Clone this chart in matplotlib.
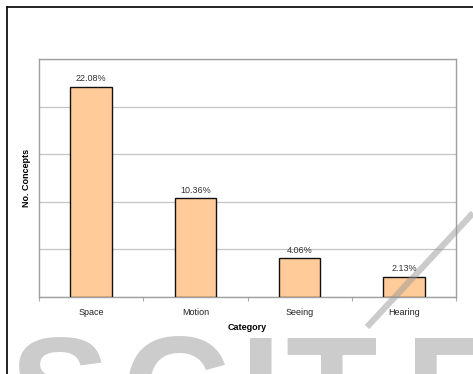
import matplotlib
matplotlib.use('Agg')
import matplotlib.pyplot as plt
from matplotlib.lines import Line2D

plt.rcParams['font.family'] = ['Liberation Sans', 'DejaVu Sans']

# data
categories = ['Space', 'Motion', 'Seeing', 'Hearing']
share_pct = [22.08, 10.36, 4.06, 2.13]

W, H = 473, 374
fig = plt.figure(figsize=(W / 100, H / 100), dpi=100)


def px(x, y):
    # pixel coords (top-left origin) -> figure fraction
    return x / W, 1 - y / H


# plot area
left, top, right, bottom = 39, 59, 456, 297
ax = fig.add_axes([left / W, 1 - bottom / H, (right - left) / W, (bottom - top) / H])

xpos = range(len(categories))
ax.bar(xpos, share_pct, width=0.4, color='#ffcc99', edgecolor='#111111', linewidth=1.0, zorder=3)
for x, v in zip(xpos, share_pct):
    ax.text(x, v + 0.35, '%.2f%%' % v, ha='center', va='bottom', fontsize=6.5, color='#333333')

ax.set_xlim(-0.5, len(categories) - 0.5)
ax.set_ylim(0, 25)
ax.set_yticks([0, 5, 10, 15, 20, 25])
ax.set_yticklabels([])
ax.tick_params(axis='y', length=0)
ax.yaxis.grid(True, color='#c4c4c4', linewidth=0.9)
ax.set_axisbelow(True)

# boundary ticks between categories, labels at the centres
ax.set_xticks([i - 0.5 for i in range(len(categories) + 1)])
ax.set_xticklabels([])
ax.tick_params(axis='x', which='major', length=3, color='#aaaaaa', direction='out')
ax.set_xticks(list(xpos), minor=True)
ax.set_xticklabels(categories, minor=True, fontsize=6.5, color='#222222')
ax.tick_params(axis='x', which='minor', length=0, pad=8)

for s in ax.spines.values():
    s.set_color('#a0a0a0')
    s.set_linewidth(1.0)

ax.set_xlabel('Category', fontsize=6.5, fontweight='bold', labelpad=4)
ax.set_ylabel('No. Concepts', fontsize=6.5, fontweight='bold', labelpad=2)

# outer frame (top and left edges visible)
fig.add_artist(Line2D([px(7, 7)[0], px(7, 374)[0]], [px(7, 7)[1], px(7, 374)[1]],
                      color='#111111', linewidth=1.3, zorder=6))
fig.add_artist(Line2D([px(7, 7)[0], px(473, 7)[0]], [px(7, 7)[1], px(473, 7)[1]],
                      color='#111111', linewidth=1.3, zorder=6))

# watermark
for ch, xx in zip('SCITE', [10, 122, 240, 285, 405]):
    fx, fy = px(xx, 333)
    fig.text(fx, fy, ch, fontsize=108, fontweight='bold', color='#cccccc',
             ha='left', va='top', zorder=1)
fig.add_artist(Line2D([px(473, 213)[0], px(367, 327)[0]], [px(473, 213)[1], px(367, 327)[1]],
                      color='#999999', alpha=0.5, linewidth=4.5, solid_capstyle='butt', zorder=4))

fig.savefig('out.png', dpi=100)
